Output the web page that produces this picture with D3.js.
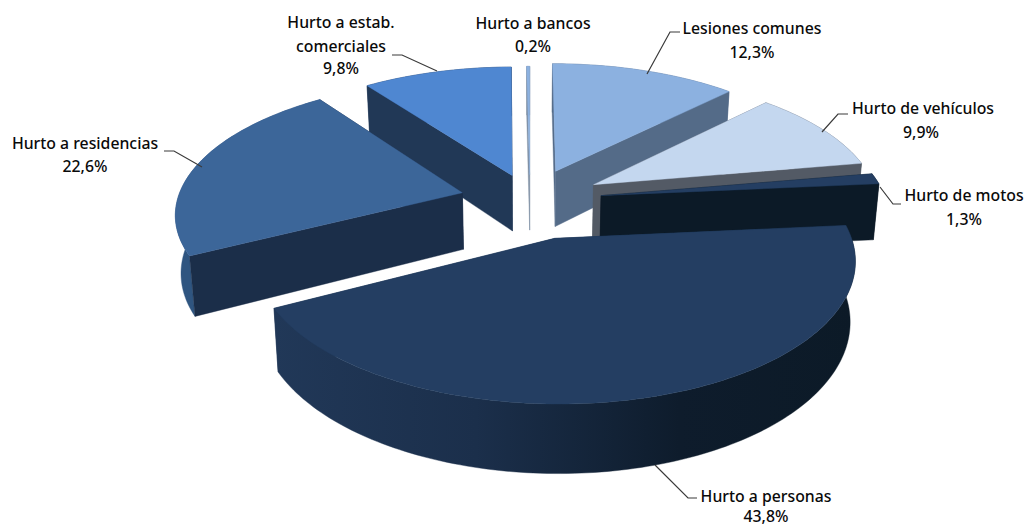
<!DOCTYPE html>
<html><head><meta charset="utf-8">
<script src="https://cdn.jsdelivr.net/npm/d3@7"></script>
<style>html,body{margin:0;background:#fff}svg{display:block}
text{font-family:"Noto Sans",sans-serif;font-size:15.8px;font-weight:500;fill:#0a0a0a;text-anchor:middle}</style>
</head><body><svg id="c" width="1026" height="527"></svg>
<script>
// Data, in pie order (clockwise from 12 o'clock)
const categories = ["Lesiones comunes","Hurto de vehículos","Hurto de motos","Hurto a personas","Hurto a residencias","Hurto a estab. comerciales","Hurto a bancos"];
const values = [12.3,9.9,1.3,43.8,22.6,9.8,0.2];
const valueLabels = ["12,3%","9,9%","1,3%","43,8%","22,6%","9,8%","0,2%"];
const explode = [70,73,72,84,70,58,57];
const topColors = ["#8cb1e0","#c4d7ef","#243e62","#243e62","#3c6699","#4f87d1","#8cb1e0"];
const faceColors = ["#546b88","#535a65","#0c1a27","#1c3250","#1b2e49","#213856","#7f8fa3"];
const outerColors = ["#546b88","#535a65","#0c1a27",null,"#2f5580","#213856","#7f8fa3"];
const drawOrder = [5,6,0,1,4,2,3];

// Label layout: text lines with centre x / baseline y, then leader polyline
const labelLines = [
  [[752,34,"Lesiones comunes"],[752,58,"12,3%"]],
  [[923,114,"Hurto de vehículos"],[921,138,"9,9%"]],
  [[964,201,"Hurto de motos"],[964,225,"1,3%"]],
  [[766,502,"Hurto a personas"],[766,522,"43,8%"]],
  [[85,149,"Hurto a residencias"],[85,172,"22,6%"]],
  [[341,28,"Hurto a estab."],[341,52,"comerciales"],[341,74,"9,8%"]],
  [[533,29,"Hurto a bancos"],[533,52,"0,2%"]]
];
const leaders = [
  [[647,74],[670,32],[680,32]],
  [[822,132],[838,114],[848,114]],
  [[880,187],[893,204],[901,204]],
  [[655,465],[688,498],[697,498]],
  [[202,167],[174,151],[164,151]],
  [[437,71],[402,55],[392,55]],
  []
];

// Projection of the tilted pie
const cx=530, cy=200, R=285, tilt=0.457, persp=0.000495, depth=57, shrink=0.984;
const proj=(u,v,low)=>{
  const s=1/(1-persp*v);
  const x=cx+u*s, y=cy+tilt*v*s;
  return low?[cx+(x-cx)*shrink, y+depth*s]:[x,y];
};
const svg=d3.select("#c");
const defs=svg.append("defs");
const grad=defs.append("linearGradient").attr("id","wallGrad").attr("gradientUnits","userSpaceOnUse")
  .attr("x1",272).attr("x2",854).attr("y1",0).attr("y2",0);
[[0,"#213858"],[0.35,"#1b2f4b"],[0.7,"#0e1c2c"],[1,"#0c1a27"]].forEach(d=>grad.append("stop").attr("offset",d[0]).attr("stop-color",d[1]));

const arcs=d3.pie().sort(null).value(d=>d)(values);
const line=d3.line();
drawOrder.forEach(i=>{
  const a=arcs[i], mid=(a.startAngle+a.endAngle)/2;
  const ou=explode[i]*Math.sin(mid), ov=-explode[i]*Math.cos(mid);
  const n=Math.max(2,Math.ceil((a.endAngle-a.startAngle)/0.02));
  const angs=d3.range(n+1).map(k=>a.startAngle+(a.endAngle-a.startAngle)*k/n);
  const P=(t,low)=>proj(ou+R*Math.sin(t),ov-R*Math.cos(t),low);
  const C=(low)=>proj(ou,ov,low);
  const g=svg.append("g").attr("class","slice");
  const topArc=angs.map(t=>P(t,false)), lowArc=angs.map(t=>P(t,true));
  const faces=[
    {pts:[C(false),P(a.startAngle,false),P(a.startAngle,true),C(true)],fill:faceColors[i]},
    {pts:[C(false),P(a.endAngle,false),P(a.endAngle,true),C(true)],fill:faceColors[i]},
    {pts:topArc.concat(lowArc.slice().reverse()),fill:outerColors[i]||"url(#wallGrad)"}
  ];
  faces.sort((p,q)=>d3.mean(p.pts,d=>d[1])-d3.mean(q.pts,d=>d[1]));
  faces.forEach(f=>g.append("path").attr("d",line(f.pts)+"Z").attr("fill",f.fill).attr("stroke",f.fill).attr("stroke-width",0.4));
  g.append("path").attr("d",line([C(false)].concat(topArc))+"Z").attr("fill",topColors[i]).attr("stroke",topColors[i]).attr("stroke-width",0.4);
});
// leaders + labels
svg.append("g").selectAll("path").data(leaders.filter(l=>l.length)).join("path")
  .attr("d",d=>line(d)).attr("fill","none").attr("stroke","#3a3a3a").attr("stroke-width",1.2);
const lg=svg.append("g");
labelLines.forEach(ls=>ls.forEach(l=>lg.append("text").attr("x",l[0]).attr("y",l[1]).text(l[2])));
</script></body></html>
